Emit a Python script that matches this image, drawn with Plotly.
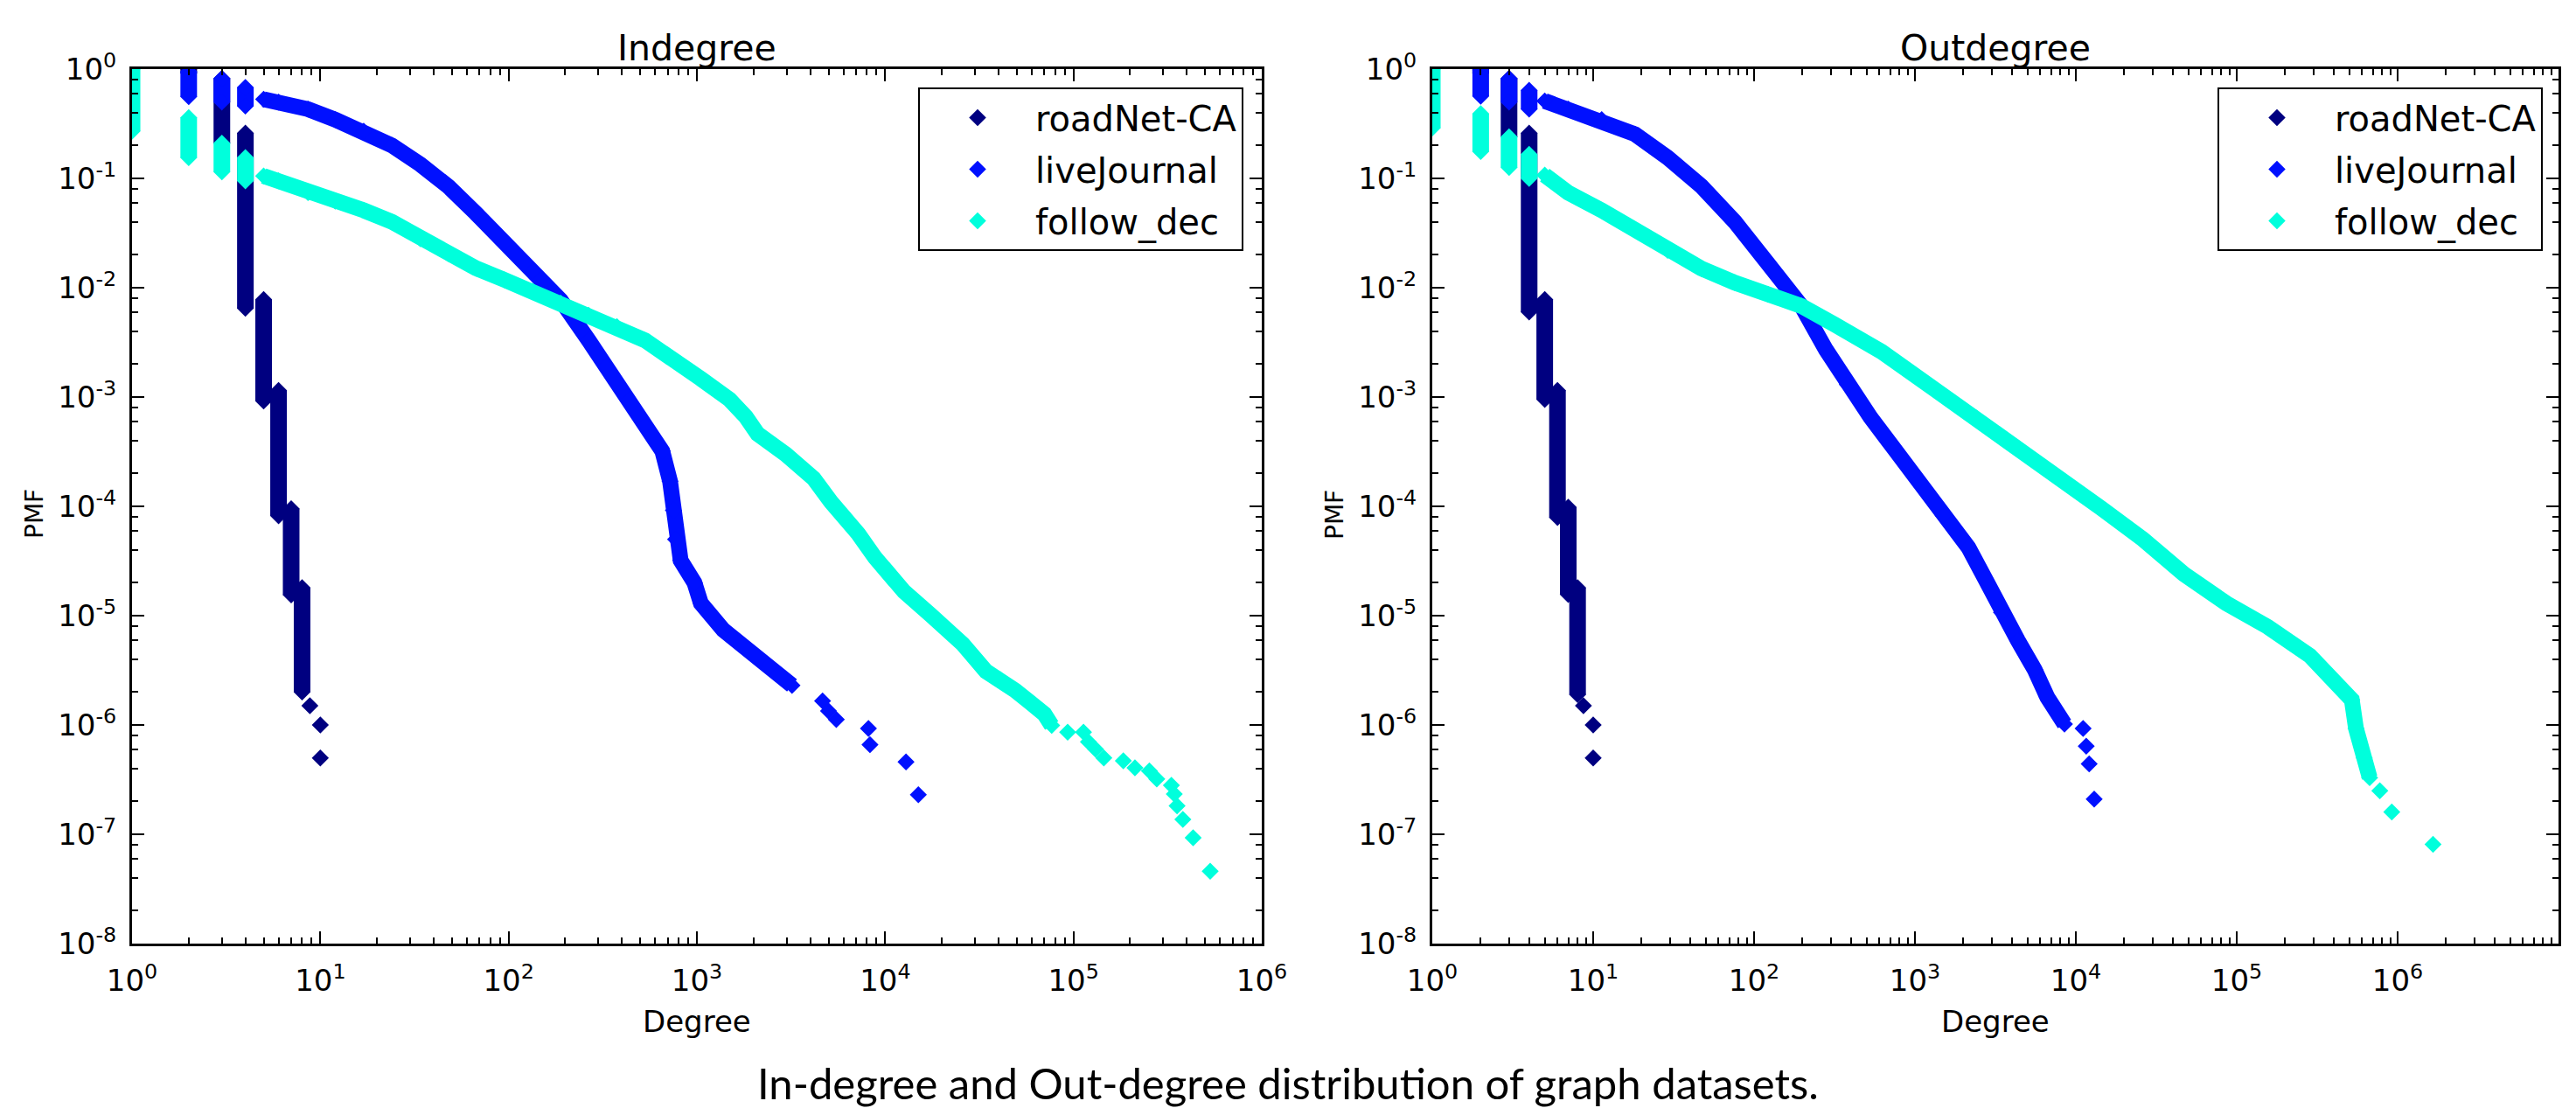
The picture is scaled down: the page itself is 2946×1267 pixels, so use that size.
import plotly.graph_objects as go

# ---------------- data ----------------
# "columns": many records stacked at one degree -> [degree, top PMF, bottom PMF]
# "band":   dense run of records (x, y)
# "pts":    isolated records (x, y)

# ---- Indegree ----
IN_ROAD_COLS = [[2, 1.0, 0.92], [3, 0.82, 0.21], [4, 0.26, 0.0065], [5, 0.0078, 0.00092],
                [6, 0.00115, 8.2e-5], [7, 9.5e-5, 1.55e-5], [8, 1.8e-5, 2.0e-6]]
IN_ROAD_PTS_X = [8.8, 10, 10]
IN_ROAD_PTS_Y = [1.5e-6, 1.0e-6, 5.0e-7]

IN_LJ_COLS = [[2, 0.95, 0.56], [3, 0.82, 0.50], [4, 0.68, 0.46]]
IN_LJ_BAND_X = [5, 6, 8.6, 12, 17, 24, 34, 48, 67, 95, 134, 189, 266, 330, 400, 530, 655,
                720, 750, 770, 820, 970, 1050, 1380, 1830, 2400, 3200]
IN_LJ_BAND_Y = [0.53, 0.50, 0.43, 0.345, 0.27, 0.20, 0.134, 0.084, 0.048, 0.026, 0.0142,
                0.0077, 0.0033, 0.0019, 0.00115, 5.5e-4, 3.2e-4, 1.7e-4, 9.2e-5, 5.0e-5,
                3.2e-5, 2.0e-5, 1.3e-5, 7.4e-6, 4.9e-6, 3.4e-6, 2.3e-6]
IN_LJ_PTS_X = [4650, 5000, 5500, 8150, 8300, 12900, 15000]
IN_LJ_PTS_Y = [1.66e-6, 1.34e-6, 1.12e-6, 9.3e-7, 6.6e-7, 4.6e-7, 2.3e-7]

IN_FD_COLS = [[1, 1.0, 0.27], [2, 0.36, 0.155], [3, 0.21, 0.115], [4, 0.155, 0.095]]
IN_FD_BAND_X = [5, 6, 8.6, 12, 17, 24, 34, 48, 67, 95, 134, 189, 266, 376, 530, 1050,
                1490, 1820, 2100, 2960, 4170, 5150, 5900, 7200, 8830, 12600, 17400, 25800,
                34300, 40900, 49000, 58500, 70000, 76600]
IN_FD_BAND_Y = [0.105, 0.095, 0.074, 0.062, 0.051, 0.040, 0.028, 0.0205, 0.0151, 0.0118,
                0.0093, 0.0072, 0.0056, 0.0044, 0.0033, 0.00147, 9.5e-4, 6.6e-4, 4.6e-4,
                3.0e-4, 1.8e-4, 1.1e-4, 8.7e-5, 5.6e-5, 3.4e-5, 1.66e-5, 1.02e-5, 5.5e-6,
                3.1e-6, 2.6e-6, 2.07e-6, 1.62e-6, 1.26e-6, 9.9e-7]
IN_FD_PTS_X = [93100, 113000, 120000, 131000, 145000, 184000, 212000, 253000, 277000,
               331000, 343000, 355000, 381000, 432000, 532000]
IN_FD_PTS_Y = [8.6e-7, 8.6e-7, 7.0e-7, 6.0e-7, 5.0e-7, 4.7e-7, 4.06e-7, 3.8e-7, 3.2e-7,
               2.8e-7, 2.33e-7, 1.82e-7, 1.37e-7, 9.3e-8, 4.6e-8]

# ---- Outdegree ----
OUT_ROAD_COLS = [[2, 1.0, 0.92], [3, 0.82, 0.24], [4, 0.26, 0.006], [5, 0.0078, 0.00095],
                 [6, 0.00115, 7.9e-5], [7, 9.8e-5, 1.56e-5], [8, 1.8e-5, 1.9e-6]]
OUT_ROAD_PTS_X = [8.7, 10, 10]
OUT_ROAD_PTS_Y = [1.5e-6, 1.0e-6, 5.0e-7]

OUT_LJ_COLS = [[2, 0.98, 0.565], [3, 0.82, 0.50], [4, 0.64, 0.43]]
OUT_LJ_BAND_X = [5, 7, 11.3, 18.2, 29, 47, 76, 122, 197, 280, 380, 530, 750, 1050, 1500,
                 2150, 2720, 3450, 4370, 5550, 6640, 8500]
OUT_LJ_BAND_Y = [0.51, 0.43, 0.345, 0.254, 0.155, 0.085, 0.04, 0.017, 0.0068, 0.0027,
                 0.0013, 6.5e-4, 3.3e-4, 1.7e-4, 8.2e-5, 4.2e-5, 2.2e-5, 1.07e-5, 5.9e-6,
                 3.2e-6, 1.8e-6, 1.02e-6]
OUT_LJ_PTS_X = [11100, 11600, 12100, 13000]
OUT_LJ_PTS_Y = [9.3e-7, 6.4e-7, 4.4e-7, 2.1e-7]

OUT_FD_COLS = [[1, 1.0, 0.29], [2, 0.39, 0.176], [3, 0.24, 0.126], [4, 0.166, 0.10]]
OUT_FD_BAND_X = [5, 7, 11.3, 18.2, 29, 47, 76, 122, 197, 317, 620, 1320, 2420, 4400, 7900,
                 14400, 26100, 47000, 86000, 156000, 285000, 460000, 519000, 551000,
                 620000, 670000]
OUT_FD_BAND_Y = [0.107, 0.074, 0.051, 0.034, 0.022, 0.015, 0.0111, 0.0087, 0.0068, 0.0046,
                 0.0026, 0.00118, 6.4e-4, 3.4e-4, 1.8e-4, 9.6e-5, 5.0e-5, 2.4e-5, 1.3e-5,
                 7.9e-6, 4.3e-6, 2.0e-6, 1.7e-6, 9.3e-7, 5.0e-7, 3.3e-7]
OUT_FD_PTS_X = [775000, 920000, 1660000]
OUT_FD_PTS_Y = [2.5e-7, 1.6e-7, 8.1e-8]

SERIES_NAMES = ["roadNet-CA", "liveJournal", "follow_dec"]
PANEL_TITLES = ["Indegree", "Outdegree"]
X_TITLE = "Degree"
Y_TITLE = "PMF"
CAPTION = "In-degree and Out-degree distribution of graph datasets."

# ---------------- styling ----------------
COLORS = ["#000080", "#0010ff", "#00ffdc"]
W, H = 2946, 1267
PLOT_FONT = "DejaVu Sans"
MARKER_SIZE = 15
BAND_W = 18
COL_W = 19

fig = go.Figure()


def add_series(cols, bx, by, px, py, name, color, xa, ya, legend):
    cx, cy = [], []
    for x, top, bot in cols:
        cx += [x, x, None]
        cy += [top, bot, None]
    fig.add_trace(go.Scatter(x=cx, y=cy, mode="lines", line=dict(color=color, width=COL_W),
                             hoverinfo="skip", showlegend=False, xaxis=xa, yaxis=ya))
    fig.add_trace(go.Scatter(x=bx, y=by, mode="lines", line=dict(color=color, width=BAND_W),
                             hoverinfo="skip", showlegend=False, xaxis=xa, yaxis=ya))
    mx, my = [], []
    for x, top, bot in cols:
        mx += [x, x]
        my += [top, bot]
    mx += list(bx) + list(px)
    my += list(by) + list(py)
    fig.add_trace(go.Scatter(x=mx, y=my, mode="markers", name=name,
                             marker=dict(symbol="diamond", size=MARKER_SIZE, color=color,
                                         line=dict(width=0)),
                             legend=legend, legendgroup=legend + name,
                             xaxis=xa, yaxis=ya))


panels = [
    ("x", "y", "legend", [
        (IN_ROAD_COLS, [], [], IN_ROAD_PTS_X, IN_ROAD_PTS_Y),
        (IN_LJ_COLS, IN_LJ_BAND_X, IN_LJ_BAND_Y, IN_LJ_PTS_X, IN_LJ_PTS_Y),
        (IN_FD_COLS, IN_FD_BAND_X, IN_FD_BAND_Y, IN_FD_PTS_X, IN_FD_PTS_Y)]),
    ("x2", "y2", "legend2", [
        (OUT_ROAD_COLS, [], [], OUT_ROAD_PTS_X, OUT_ROAD_PTS_Y),
        (OUT_LJ_COLS, OUT_LJ_BAND_X, OUT_LJ_BAND_Y, OUT_LJ_PTS_X, OUT_LJ_PTS_Y),
        (OUT_FD_COLS, OUT_FD_BAND_X, OUT_FD_BAND_Y, OUT_FD_PTS_X, OUT_FD_PTS_Y)]),
]
for xa, ya, leg, data in panels:
    for (cols, bx, by, px, py), name, color in zip(data, SERIES_NAMES, COLORS):
        add_series(cols, bx, by, px, py, name, color, xa, ya, leg)

# ---------------- axes ----------------
LX0, LX1 = 151, 1443
RX0, RX1 = 1638, 2926
YT, YB = 79, 1079


def xd(p):
    return p / W


def yd(p):
    return 1 - p / H


def log_axis(lo, hi, domain, anchor, is_x):
    exps = list(range(lo, hi + 1))
    subs = range(2, 10) if is_x else (2, 4, 6, 8)
    minor_vals = [m * 10.0 ** e for e in range(lo, hi) for m in subs]
    return dict(
        type="log", range=[lo, hi], domain=domain, anchor=anchor,
        tickmode="array", tickvals=[10.0 ** e for e in exps],
        ticktext=[f"10<sup>{e}</sup>" for e in exps],
        ticks="inside", ticklen=14, tickwidth=2, tickcolor="black",
        minor=dict(ticks="inside", ticklen=7, tickwidth=1.5, tickcolor="black",
                   tickmode="array", tickvals=minor_vals, showgrid=False),
        showline=True, linewidth=3, linecolor="black", mirror="allticks",
        showgrid=False, zeroline=False, automargin=False,
        ticklabelstandoff=10 if is_x else 8,
        tickfont=dict(family=PLOT_FONT, size=34, color="black"),
    )


fig.update_layout(
    xaxis=log_axis(0, 6, [xd(LX0), xd(LX1)], "y", True),
    yaxis=log_axis(-8, 0, [yd(YB), yd(YT)], "x", False),
    xaxis2=log_axis(0, 7, [xd(RX0), xd(RX1)], "y2", True),
    yaxis2=log_axis(-8, 0, [yd(YB), yd(YT)], "x2", False),
)

legend_style = dict(bgcolor="white", bordercolor="black", borderwidth=2,
                    font=dict(family=PLOT_FONT, size=40, color="black"),
                    itemwidth=122, entrywidth=245, entrywidthmode="pixels",
                    tracegroupgap=4, itemsizing="trace",
                    yanchor="top", y=yd(100), xanchor="right")
fig.update_layout(legend=dict(x=xd(1422), **legend_style),
                  legend2=dict(x=xd(2908), **legend_style))

ann = []
for title, x0, x1 in [(PANEL_TITLES[0], LX0, LX1), (PANEL_TITLES[1], RX0, RX1)]:
    ann.append(dict(text=title, x=xd((x0 + x1) / 2), y=yd(55), xref="paper", yref="paper",
                    xanchor="center", yanchor="middle", showarrow=False,
                    font=dict(family=PLOT_FONT, size=41, color="black")))
    ann.append(dict(text=X_TITLE, x=xd((x0 + x1) / 2), y=yd(1168), xref="paper", yref="paper",
                    xanchor="center", yanchor="middle", showarrow=False,
                    font=dict(family=PLOT_FONT, size=34, color="black")))
for xp in (40, RX0 - (LX0 - 40)):
    ann.append(dict(text=Y_TITLE, x=xd(xp), y=yd(588), xref="paper", yref="paper",
                    xanchor="center", yanchor="middle", showarrow=False, textangle=-90,
                    font=dict(family=PLOT_FONT, size=28, color="black")))
ann.append(dict(text=CAPTION, x=0.5, y=yd(1238), xref="paper", yref="paper",
                xanchor="center", yanchor="middle", showarrow=False,
                font=dict(family="Lato", size=49, color="black")))

fig.update_layout(
    width=W, height=H, margin=dict(l=0, r=0, t=0, b=0),
    paper_bgcolor="white", plot_bgcolor="white",
    template="none", showlegend=True, hovermode=False,
    annotations=ann,
)

fig.write_html("out.html")
